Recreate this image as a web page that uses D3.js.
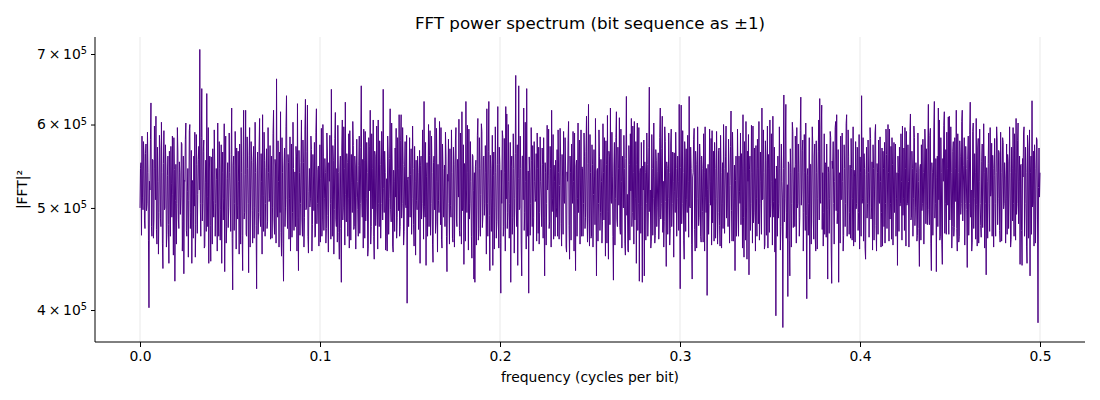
<!DOCTYPE html>
<html>
<head>
<meta charset="utf-8">
<script src="https://cdn.jsdelivr.net/npm/d3@7"></script>
<style>
  body { margin: 0; background: #fff; }
  text { font-family: "DejaVu Sans", sans-serif; fill: #000; }
</style>
</head>
<body>
<div id="spectrum"></div>
<script>
// |FFT|^2 values in thousands, one per frequency bin from 0 to 0.5
var power = [
500,545,552,471,585,512,498,578,560,486,478,563,575,497,505,590,540,466,402,530,
520,581,629,480,470,556,555,468,488,598,545,509,611,477,462,571,530,452,495,586,
568,489,480,603,540,463,438,551,592,498,500,574,548,459,472,537,560,482,443,566,
535,470,572,527,490,585,515,451,583,544,426,508,550,462,505,596,565,488,478,553,
540,493,512,577,575,455,485,560,433,531,530,581,602,476,470,518,545,449,508,592,
600,478,495,567,443,531,528,468,560,502,590,449,482,587,550,473,515,556,572,520,
707,505,470,583,649,486,505,566,580,458,460,529,555,475,642,513,480,596,443,542,
560,481,445,559,520,462,569,508,490,593,548,470,505,545,532,455,602,500,470,578,
545,466,498,574,443,540,565,487,510,601,435,548,585,463,480,533,552,479,500,589,
540,512,475,562,622,468,418,549,560,476,505,591,548,457,570,503,488,566,530,452,
575,486,462,596,540,471,436,560,619,488,495,538,619,472,470,584,545,505,434,561,
596,459,520,578,555,497,463,552,572,468,500,603,540,481,419,543,565,472,495,570,
608,491,480,563,530,452,613,514,475,590,555,470,505,546,569,478,485,596,540,507,
510,573,467,536,560,468,500,588,619,487,472,556,548,463,663,502,490,579,530,459,
565,495,617,474,450,583,540,463,426,548,570,480,500,597,639,509,478,562,552,467,
510,584,455,520,575,469,495,603,545,476,520,541,480,572,560,455,628,490,436,567,
540,471,505,552,606,487,470,580,552,459,490,594,634,498,500,566,626,470,453,518,
545,501,510,585,568,455,482,562,535,497,577,469,470,590,621,483,505,544,548,460,
520,574,464,533,595,470,488,600,560,476,510,557,540,463,478,589,565,492,454,552,
530,586,505,467,648,509,470,573,555,452,498,582,616,488,480,545,464,599,540,474,
447,541,560,478,425,570,606,487,500,597,545,461,630,515,485,563,552,470,510,588,
458,592,535,466,562,529,495,604,573,477,480,560,548,457,512,581,530,498,470,549,
585,473,505,571,653,511,490,556,458,594,555,468,591,486,510,577,540,450,458,583,
572,519,619,462,480,588,545,499,606,470,447,566,560,481,500,598,535,457,606,505,
480,579,550,468,505,591,565,487,648,522,495,566,540,456,470,533,455,585,560,472,
510,557,621,498,485,602,548,460,454,543,530,475,570,512,595,468,490,583,545,497,
613,470,480,579,613,489,505,596,550,461,475,547,578,503,500,586,406,532,535,480,
520,583,490,538,569,472,510,598,545,482,460,572,530,451,555,508,498,560,540,477,
512,567,443,549,560,488,505,593,548,467,631,502,490,577,441,536,552,470,520,600,
480,561,592,471,505,585,540,462,444,552,560,498,609,473,485,595,530,454,550,508,
495,604,565,482,596,467,458,575,545,490,510,549,480,590,560,470,435,538,530,581,
505,462,569,503,490,593,540,468,464,571,550,459,520,580,596,487,480,556,545,512,
607,476,470,589,555,462,617,497,500,574,442,551,548,465,631,520,495,599,540,456,
594,488,505,578,530,470,448,562,560,519,428,540,425,547,555,461,500,586,608,466,
478,583,545,470,515,601,591,479,490,558,560,492,505,573,540,452,621,505,470,566,
631,492,436,561,545,475,510,586,441,537,565,457,500,597,540,468,485,550,624,488,
458,571,550,464,415,543,505,592,583,470,480,582,540,455,624,510,614,478,495,600,
530,468,505,577,425,547,560,472,490,588,545,453,510,563,668,500,480,574,441,533,
653,498,500,585,545,462,431,560,560,509,622,476,495,603,530,457,649,487,470,542,
415,559,540,471,505,596,555,480,573,455,490,578,530,507,510,563,465,589,545,473,
571,462,495,584,530,511,480,570,550,468,583,490,431,552,540,461,505,599,520,537,
594,478,485,572,545,459,619,496,510,587,467,549,530,470,555,490,500,568,470,593,
540,467,525,595,560,483,460,562,535,472,591,508,505,583,548,459,454,541,530,579,
604,481,447,560,540,466,575,526,505,591,530,455,589,493,436,548,555,470,510,602,
495,558,580,462,520,593,470,547,545,470,505,589,560,478,490,566,611,500,464,551,
627,489,460,587,540,468,470,574,550,459,515,568,535,482,608,510,431,542,545,465,
505,593,560,476,495,556,530,463,485,601,540,487,583,520,450,579,550,463,612,496,
447,566,560,482,622,509,505,590,535,470,427,548,577,461,510,583,617,488,480,571,
545,503,609,479,472,594,530,458,560,536,500,586,545,463,451,557,638,492,515,456,
454,573,550,466,588,519,608,480,495,598,540,462,604,487,510,578,443,550,602,476,
505,596,426,540,545,473,577,502,425,548,520,580,431,553,540,466,505,589,550,470,
495,571,651,496,520,458,465,587,545,471,510,602,535,463,471,568,555,480,500,541,
564,467,490,583,622,488,505,569,611,474,530,459,485,597,578,507,440,553,545,472,
510,589,540,461,478,575,594,480,505,565,530,449,564,518,495,590,545,470,510,560,
530,476,627,511,419,546,626,483,505,592,540,466,447,578,560,475,569,509,495,586,
530,469,638,502,500,571,545,462,428,535,540,581,595,477,455,566,550,458,510,597,
535,481,490,575,556,470,464,560,545,496,464,588,540,455,597,512,495,545,413,521,
550,472,505,594,530,503,582,461,592,484,520,566,465,577,545,468,510,591,535,462,
495,567,570,481,460,586,540,458,505,552,478,600,545,473,520,559,598,489,505,540,
480,581,540,463,525,572,618,497,465,590,550,465,510,549,436,531,560,470,500,594,
535,470,560,518,505,589,482,563,545,458,613,490,449,578,540,466,604,501,447,566,
530,587,432,544,560,476,505,599,540,463,598,484,495,570,520,455,573,510,470,581,
545,483,604,466,505,565,530,472,622,509,510,593,540,457,461,579,555,471,520,598,
458,562,545,474,606,490,505,588,530,461,611,507,490,571,454,533,395,548,540,470,
560,489,505,597,545,456,480,575,530,511,385,545,640,485,510,580,627,468,495,526,
412,553,550,466,431,569,540,459,505,603,591,479,520,546,480,585,550,463,596,500,
505,575,540,470,490,592,637,503,520,567,580,455,495,587,540,476,602,492,410,537,
545,471,505,583,428,550,550,462,520,597,575,486,467,560,575,468,455,579,540,457,
510,566,606,487,635,509,505,594,626,477,540,460,495,588,472,552,550,469,575,498,
428,547,540,473,510,591,583,459,424,554,545,578,505,462,530,596,604,497,613,483,
495,568,425,537,540,463,585,509,510,589,530,455,471,574,545,480,505,601,613,470,
520,593,560,472,495,549,468,582,545,466,510,597,460,543,535,464,578,499,505,571,
570,476,495,587,457,559,540,470,639,505,510,583,465,563,545,458,447,538,571,489,
505,580,540,469,520,596,582,488,500,553,456,574,545,466,520,589,600,481,455,551,
540,472,580,507,505,584,530,459,495,570,460,566,545,480,577,463,505,594,562,478,
520,600,540,465,594,488,505,572,467,583,550,461,520,577,495,542,575,470,510,540,
441,560,540,475,571,502,505,588,530,466,598,492,510,570,476,596,545,460,591,503,
505,574,530,459,520,591,614,487,490,566,545,470,510,598,583,481,500,552,540,465,
471,589,530,478,440,545,550,466,574,497,505,581,540,462,520,594,570,483,569,503,
482,571,627,498,482,586,595,463,436,552,540,471,520,593,631,489,505,557,435,534,
560,480,622,509,606,466,470,583,540,462,442,557,530,599,617,473,505,568,472,590,
545,503,610,472,611,487,520,597,540,458,480,566,578,470,479,583,545,507,619,478,
455,588,540,464,470,579,560,493,505,604,619,486,520,549,583,461,505,572,545,498,
439,556,585,471,505,587,630,490,520,455,464,591,602,478,510,563,540,467,608,504,
460,570,582,463,530,594,505,481,469,553,575,479,520,601,540,458,560,505,432,546,
530,468,551,589,505,475,596,513,520,576,470,561,545,459,537,582,505,470,540,597,
580,482,510,567,564,476,464,590,540,465,520,583,577,499,505,552,535,463,510,575,
472,562,553,478,520,597,540,459,467,571,545,486,596,505,470,588,540,466,608,493,
505,579,602,483,530,560,442,549,550,476,441,557,535,589,597,470,505,571,540,460,
443,586,571,468,520,593,431,540,560,472,632,501,505,566,460,574,545,463,520,583,
580,487,389,523,570,512,540
];

var xTicks = [0.0, 0.1, 0.2, 0.3, 0.4, 0.5];
var yTicks = [4, 5, 6, 7];   // mantissa of n x 10^5
var fMax = 0.5;

var titleText = "FFT power spectrum (bit sequence as \u00b11)";
var xLabel = "frequency (cycles per bit)";
var yLabel = "|FFT|\u00b2";

var W = 1100, H = 400;
var margin = { top: 37, right: 15, bottom: 58, left: 95 },
  width = W - margin.left - margin.right,
  height = H - margin.top - margin.bottom;

var data = power.map(function (v, i) {
  return { f: i * fMax / (power.length - 1), p: v * 1000 };
});

var svg = d3.select("#spectrum")
  .append("svg")
  .attr("width", W)
  .attr("height", H);

var g = svg.append("g")
  .attr("transform", "translate(" + margin.left + "," + margin.top + ")");

var x = d3.scaleLinear()
  .domain([-0.025, 0.525])
  .range([0, width]);

var y = d3.scaleLog()
  .domain([3.73e5, 7.265e5])
  .range([height, 0]);

// vertical grid at the x ticks
g.append("g")
  .selectAll("line")
  .data(xTicks)
  .join("line")
  .attr("x1", d => x(d)).attr("x2", d => x(d))
  .attr("y1", 0).attr("y2", height)
  .attr("stroke", "#e3e3e3")
  .attr("stroke-width", 0.8);

var line = d3.line()
  .x(d => x(d.f))
  .y(d => y(d.p));

g.append("path")
  .datum(data)
  .attr("fill", "none")
  .attr("stroke", "#4b0082")
  .attr("stroke-width", 1)
  .attr("stroke-linejoin", "round")
  .attr("d", line);

// x axis
var xAxis = g.append("g")
  .attr("transform", "translate(0," + height + ")")
  .call(d3.axisBottom(x).tickValues(xTicks).tickFormat(d3.format(".1f")).tickSizeOuter(0).tickSize(5).tickPadding(4));
xAxis.select(".domain").remove();
xAxis.selectAll("text").attr("font-size", "13.9px").attr("font-family", "DejaVu Sans");

// y axis, log scale with n x 10^5 labels
var yAxis = g.append("g")
  .call(d3.axisLeft(y).tickValues(yTicks.map(d => d * 1e5)).tickFormat("").tickSizeOuter(0).tickSize(4));
yAxis.select(".domain").remove();

yAxis.selectAll(".tick").each(function (d) {
  var t = d3.select(this).append("text")
    .attr("x", -8)
    .attr("dy", "0.32em")
    .attr("text-anchor", "end")
    .attr("font-size", "13.9px")
    .attr("fill", "#000");
  t.append("tspan").text(Math.round(d / 1e5) + "\u2009\u00d7\u200910");
  t.append("tspan").attr("dy", "-0.5em").attr("font-size", "9.8px").text("5");
});

// left and bottom spines
g.append("line")
  .attr("x1", 0).attr("x2", 0).attr("y1", 0).attr("y2", height)
  .attr("stroke", "#000").attr("stroke-width", 1);
g.append("line")
  .attr("x1", 0).attr("x2", width).attr("y1", height).attr("y2", height)
  .attr("stroke", "#000").attr("stroke-width", 1);

// labels
svg.append("text")
  .attr("x", margin.left + width / 2)
  .attr("y", 29)
  .attr("text-anchor", "middle")
  .attr("font-size", "16.7px")
  .text(titleText);

svg.append("text")
  .attr("x", margin.left + width / 2)
  .attr("y", 382)
  .attr("text-anchor", "middle")
  .attr("font-size", "13.9px")
  .text(xLabel);

svg.append("text")
  .attr("transform", "translate(27," + (margin.top + height / 2) + ") rotate(-90)")
  .attr("text-anchor", "middle")
  .attr("font-size", "13.9px")
  .text(yLabel);
</script>
</body>
</html>
